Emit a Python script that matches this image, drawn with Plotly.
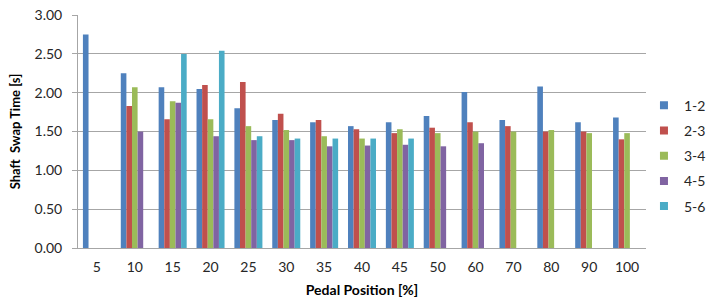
import plotly.graph_objects as go

categories = ["5", "10", "15", "20", "25", "30", "35", "40", "45", "50", "60", "70", "80", "90", "100"]
s12 = [2.75, 2.25, 2.07, 2.05, 1.80, 1.65, 1.62, 1.57, 1.62, 1.70, 2.01, 1.65, 2.08, 1.62, 1.68]
s23 = [None, 1.83, 1.66, 2.10, 2.14, 1.73, 1.65, 1.53, 1.48, 1.55, 1.62, 1.57, 1.50, 1.50, 1.40]
s34 = [None, 2.07, 1.89, 1.66, 1.57, 1.52, 1.44, 1.41, 1.53, 1.48, 1.50, 1.50, 1.52, 1.48, 1.48]
s45 = [None, 1.50, 1.87, 1.44, 1.39, 1.39, 1.31, 1.32, 1.33, 1.31, 1.35, None, None, None, None]
s56 = [None, None, 2.50, 2.54, 1.44, 1.41, 1.41, 1.41, 1.41, None, None, None, None, None, None]

series_names = ["1-2", "2-3", "3-4", "4-5", "5-6"]
series_values = [s12, s23, s34, s45, s56]
colors = ["#4F81BD", "#C0504D", "#9BBB59", "#8064A2", "#4BACC6"]
y_ticks = [0, 0.5, 1.0, 1.5, 2.0, 2.5, 3.0]

fig = go.Figure()
for i, (name, vals) in enumerate(zip(series_names, series_values)):
    fig.add_trace(go.Bar(
        x=categories, y=vals, name=name,
        marker=dict(color=colors[i], line=dict(width=0)),
        showlegend=False,
    ))
# legend entries with small square swatches like the original
for i, name in enumerate(series_names):
    fig.add_trace(go.Scatter(
        x=[None], y=[None], mode="markers", name=name,
        marker=dict(symbol="square", size=8, color=colors[i]),
        legendgroup=name, showlegend=True,
    ))

font_family = "Lato, 'Noto Sans', sans-serif"
fig.update_layout(
    width=710, height=299,
    margin=dict(l=78, r=64, t=15, b=51, autoexpand=False),
    barmode="group", bargap=0.26, bargroupgap=0,
    plot_bgcolor="white", paper_bgcolor="white",
    font=dict(family=font_family, size=14, color="#262626"),
    legend=dict(xref="container", yref="container",
                x=0.907, y=0.700, xanchor="left", yanchor="top",
                font=dict(size=14, color="#262626"),
                tracegroupgap=4, traceorder="grouped",
                itemwidth=30, bgcolor="rgba(0,0,0,0)"),
    showlegend=True,
)
fig.update_xaxes(
    type="category", showline=True, linecolor="#A6A6A6", linewidth=1,
    ticks="", showgrid=False, automargin=False, ticklabelstandoff=6,
    title=dict(text="<b>Pedal Position [%]</b>", font=dict(size=14, color="#000000"), standoff=11),
    tickfont=dict(size=14, color="#262626"),
)
fig.update_yaxes(
    range=[0, 3.002], tickvals=y_ticks, tickformat=".2f",
    showgrid=True, gridcolor="#A6A6A6", gridwidth=1,
    showline=True, linecolor="#A6A6A6", linewidth=1,
    ticks="outside", ticklen=5, tickcolor="#A6A6A6",
    zeroline=False, automargin=False, ticklabelstandoff=7,
    ticklabeloverflow="allow",
    title=dict(text="<b>Shaft  Swap Time [s]</b>", font=dict(size=13, color="#000000"), standoff=10),
    tickfont=dict(size=14, color="#262626"),
)

fig.write_html("out.html", config={"displayModeBar": False},
               post_script="document.body.style.margin='0';")
